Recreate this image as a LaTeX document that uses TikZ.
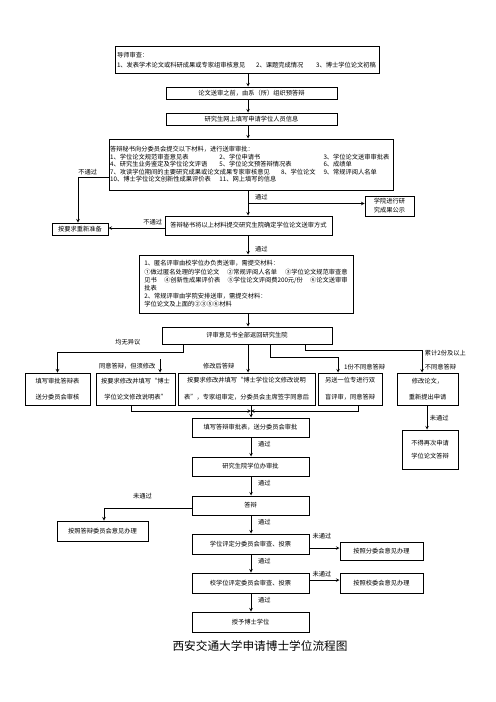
\documentclass[tikz,border=0pt]{standalone}
\usepackage{fontspec}
\setmainfont{Noto Sans CJK SC}
\usetikzlibrary{calc}
\tikzset{>=stealth}
\tikzset{
  box/.style={draw, line width=1.2pt, inner sep=1pt, font=\fontsize{7.5}{9}\selectfont},
  wide/.style={box, font=\fontsize{7.5}{20}\selectfont, align=center},
  lbl/.style={font=\fontsize{7.5}{8}\selectfont, inner sep=1pt},
  link/.style={->, line width=0.9pt},
}

\begin{document}
\begin{tikzpicture}[x=1.2pt,y=-1.2pt]
  \useasboundingbox (0,0) rectangle (496,702);
  \coordinate (colA) at (248,0);
  \coordinate (colB) at (251,0);

  % upper part
  \node[box, minimum width=316.8pt, minimum height=31.2pt, inner sep=2pt, align=left, text width=312pt, font=\fontsize{7.5}{12}\selectfont] (b1) at (247,60)
    {导师审查：\\
     \makebox[167pt][l]{1、发表学术论文或科研成果或专家组审核意见}\makebox[72pt][l]{2、课题完成情况}3、博士学位论文初稿};
  \node[box, minimum width=205.2pt, minimum height=14.4pt] (b2) at (251.5,93) {论文送审之前，由系（所）组织预答辩};
  \node[box, minimum width=205.2pt, minimum height=14.4pt] (b3) at (251.5,119) {研究生网上填写申请学位人员信息};
  \node[box, minimum width=340.8pt, minimum height=61.2pt, text width=338pt, align=left] (b4) at (251,164.5)
    {答辩秘书向分委员会提交以下材料，进行送审审批：\\
     \makebox[131pt][l]{1、学位论文规范审查意见表}\makebox[125pt][l]{2、学位申请书}3、学位论文送审审批表\\
     \makebox[131pt][l]{4、研究生业务鉴定及学位论文评语}\makebox[125pt][l]{5、学位论文预答辩情况表}6、成绩单\\
     \makebox[205pt][l]{7、攻读学位期间的主要研究成果或论文成果专家审核意见}\makebox[51pt][l]{8、学位论文}9、常规评阅人名单\\
     \makebox[131pt][l]{10、博士学位论文创新性成果评价表}11、网上填写的信息};
  \node[box, minimum width=67.2pt, minimum height=14.4pt] (bfail) at (80,229) {按要求重新准备};
  \node[box, minimum width=58.8pt, minimum height=24pt, align=center, font=\fontsize{7.5}{10.8}\selectfont] (bpub) at (389.5,206) {学院进行研\\究成果公示};
  \node[box, minimum width=200.4pt, minimum height=22.8pt] (b5) at (248.5,225.5) {答辩秘书将以上材料提交研究生院确定学位论文送审方式};
  \node[box, minimum width=256.8pt, minimum height=69.6pt, inner xsep=6pt, text width=244pt, align=left, font=\fontsize{7.5}{9.8}\selectfont] (b6) at (246,284)
    {1、匿名评审由校学位办负责送审，需提交材料：\\
     ①做过匿名处理的学位论文\hfill ②常规评阅人名单\hfill ③学位论文规范审查意\\
     见书\hfill ④创新性成果评价表\hfill ⑤学位论文评阅费200元/份\hfill ⑥论文送审审\\
     批表\\
     2、常规评审由学院安排送审，需提交材料：\\
     学位论文及上面的②③⑤⑥材料};
  \node[box, minimum width=204pt, minimum height=20.4pt] (b7) at (247,335.5) {评审意见书全部返回研究生院};

  % five outcomes
  \node[wide, minimum width=78pt, minimum height=38.4pt] (b8a) at (57.5,389) {填写审批答辩表\\送分委员会审核};
  \node[wide, minimum width=94.8pt, minimum height=38.4pt] (b8b) at (135.5,389) {按要求修改并填写“博士\\学位论文修改说明表”};
  \node[wide, minimum width=164.4pt, minimum height=38.4pt] (b8c) at (246.5,389) {按要求修改并填写“博士学位论文修改说明\\表”，专家组审定，分委员会主席签字同意后};
  \node[wide, minimum width=76.8pt, minimum height=38.4pt] (b8d) at (350,389) {另送一位专进行双\\盲评审，同意答辩};
  \node[wide, minimum width=73.2pt, minimum height=38.4pt] (b8e) at (427.5,389) {修改论文，\\重新提出申请};
  \node[box, minimum width=67.2pt, minimum height=46.8pt, align=center, font=\fontsize{7.5}{15.6}\selectfont] (bno) at (430,449.5) {不得再次申请\\学位论文答辩};

  % lower part
  \node[box, minimum width=140.4pt, minimum height=22.8pt] (b9) at (250.5,427.5) {填写答辩审批表，送分委员会审批};
  \node[box, minimum width=140.4pt, minimum height=22.8pt] (b10) at (250.5,466.5) {研究生院学位办审批};
  \node[box, minimum width=140.4pt, minimum height=22.8pt] (b11) at (250.5,505.5) {答辩};
  \node[box, minimum width=109.2pt, minimum height=24pt] (b12) at (102.5,531) {按照答辩委员会意见办理};
  \node[box, minimum width=140.4pt, minimum height=24pt] (b13) at (250.5,544) {学位评定分委员会审查、投票};
  \node[box, minimum width=99.6pt, minimum height=21.6pt] (b13r) at (381.5,551) {按照分委会意见办理};
  \node[box, minimum width=140.4pt, minimum height=24pt] (b14) at (250.5,583) {校学位评定委员会审查、投票};
  \node[box, minimum width=99.6pt, minimum height=24pt] (b14r) at (381.5,583) {按照校委会意见办理};
  \node[box, minimum width=140.4pt, minimum height=24pt] (b15) at (250.5,622) {授予博士学位};
  \node[font=\fontsize{14}{16}\selectfont] (title) at (260,646) {西安交通大学申请博士学位流程图};

  % connectors
  \draw[link] (b1.south -| colA) -- (b2.north -| colA);
  \draw[link] (b2.south -| colA) -- (b3.north -| colA);
  \draw[link] (b3.south -| colA) -- (b4.north -| colA);
  \draw[link] (b4.south -| colA) -- (b5.north -| colA) node[lbl, pos=0.27, right=7pt] (t1) {通过};
  \draw[link] (b4.south -| colA) ++(0,13) coordinate (j1) -- (j1 -| bpub.west);
  \draw[link] (b4.west) ++(0,12.5) -| (bfail.north -| 78,0) node[lbl, pos=0.34, above=1pt] (t2) {不通过};
  \draw[link] (b5.west) ++(0,2.5) coordinate (j2) -- (j2 -| bfail.east) node[lbl, pos=0.21, above=2pt] (t3) {不通过};
  \draw[link] (b5.south -| colA) -- (b6.north -| colA) node[lbl, pos=0.7, right=7pt] (t4) {通过};
  \draw[link] (b6.south -| colA) -- (b7.north -| colA);

  \draw[link] (b7.south -| 183,0) -- ++(0,8) -| (b8a.north) node[lbl, pos=0.22, above=8pt] (t5) {均无异议};
  \coordinate (s8b) at (160,359);
  \draw[link] (s8b) -- (s8b |- b8b.north) node[lbl, pos=0.5, left=4pt] (t6) {同意答辩，但须修改};
  \draw[link] (b7.south -| colA) -- (b8c.north -| colA) node[lbl, pos=0.79, left=15pt] (t7) {修改后答辩};
  \draw[link] (b7.south -| 270,0) -- ++(0,13) -| (b8d.north -| 338,0) node[lbl, pos=0.81, right=6pt] (t8) {1份不同意答辩};
  \draw[link] (b7.south -| 305,0) -- ++(0,6) -| (b8e.north -| 422,0) node[lbl, pos=0.72, right=2pt, align=left, font=\fontsize{7.5}{16.8}\selectfont] (t9) {累计2份及以上\\不同意答辩};
  \draw[link] (b8e.south -| 427,0) -- (bno.north -| 427,0) node[lbl, pos=0.52, right=2pt] (t10) {未通过};

  \coordinate (m) at (251,411);
  \draw[link] (b8b.south -| 131,0) |- (m);
  \draw[link] (b8d.south -| 358,0) |- (m);
  \draw[link] (b8c.south -| colB) -- (b9.north -| colB);

  \draw[link] (b9.south -| colB) -- (b10.north -| colB) node[lbl, pos=0.35, right=7pt] (t11) {通过};
  \draw[link] (b10.south -| colB) -- (b11.north -| colB) node[lbl, pos=0.35, right=7pt] (t12) {通过};
  \draw[link] (b11.west) ++(0,2.5) -| (b12.north -| 104,0) node[lbl, pos=0.28, above=9pt] (t13) {未通过};
  \draw[link] (b11.south -| colB) -- (b13.north -| colB) node[lbl, pos=0.37, right=7pt] (t14) {通过};
  \draw[link] (b13.east) ++(0,4) coordinate (j3) -- (j3 -| b13r.west) node[lbl, pos=0.42, above=9pt] (t15) {未通过};
  \draw[link] (b13.south -| colB) -- (b14.north -| colB) node[lbl, pos=0.37, right=7pt] (t16) {通过};
  \draw[link] (b14.east) ++(0,-3) coordinate (j4) -- (j4 -| b14r.west) node[lbl, pos=0.42, above=2pt] (t17) {未通过};
  \draw[link] (b14.south -| colB) -- (b15.north -| colB) node[lbl, pos=0.37, right=7pt] (t18) {通过};
\end{tikzpicture}
\end{document}
